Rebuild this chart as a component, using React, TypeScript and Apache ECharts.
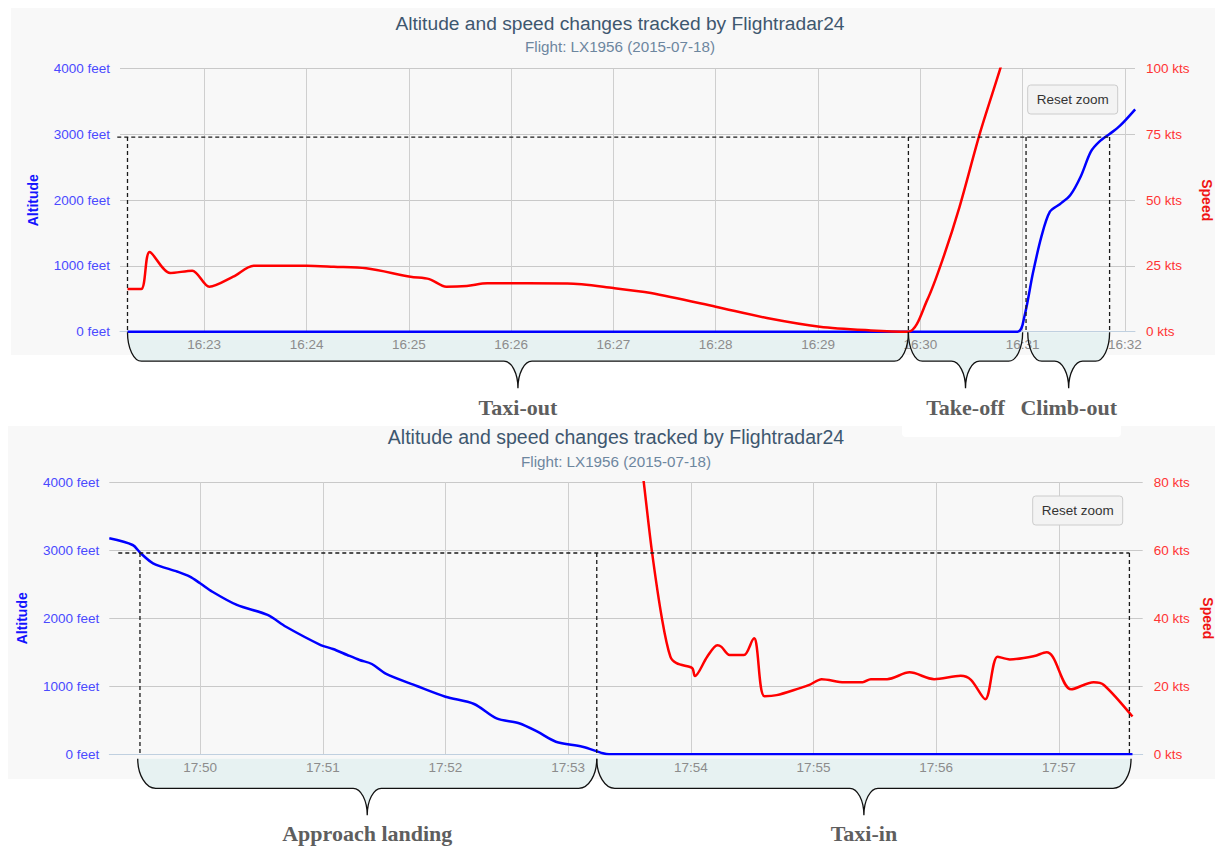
import React, { useEffect, useRef } from 'react';
import * as echarts from 'echarts';

// ---------- DATA ----------
const TITLE = 'Altitude and speed changes tracked by Flightradar24';
const SUBTITLE = 'Flight: LX1956 (2015-07-18)';

// Top chart (departure)
const topRange = ['16:22:10.6', '16:32:05.9'];
const topTicks = ['16:23', '16:24', '16:25', '16:26', '16:27', '16:28', '16:29', '16:30', '16:31', '16:32'];
const topAltTime = ['16:22:15', '16:30:57', '16:31:01', '16:31:06', '16:31:11', '16:31:16', '16:31:22', '16:31:28', '16:31:34', '16:31:40', '16:31:45', '16:31:51', '16:31:57', '16:32:06'];
const topAlt = [0, 0, 228, 888, 1445, 1825, 1942, 2079, 2357, 2738, 2890, 3007, 3129, 3382];
const topSpdTime = ['16:22:15', '16:22:23', '16:22:28', '16:22:40', '16:22:53', '16:23:03', '16:23:17', '16:23:29', '16:24:00', '16:24:16', '16:24:35', '16:25:01', '16:25:12', '16:25:22', '16:25:34', '16:25:46', '16:26:33', '16:27:00', '16:27:22', '16:28:00', '16:28:30', '16:29:01', '16:29:31', '16:29:53', '16:30:04', '16:30:13', '16:30:23', '16:30:35', '16:30:47', '16:30:55'];
const topSpd = [16.2, 16.2, 30.3, 22.3, 23.2, 17.1, 20.9, 25.1, 25.1, 24.7, 24.1, 20.9, 20.0, 17.1, 17.4, 18.4, 18.3, 16.6, 14.7, 9.5, 5.2, 1.9, 0.5, 0, 12, 27.3, 47.5, 75.6, 100.3, 118];

// Bottom chart (arrival)
const botRange = ['17:49:15.6', '17:57:41'];
const botTicks = ['17:50', '17:51', '17:52', '17:53', '17:54', '17:55', '17:56', '17:57'];
const botAltTime = ['17:49:15.6', '17:49:27', '17:49:31', '17:49:37', '17:49:49', '17:49:55', '17:50:00', '17:50:06', '17:50:18', '17:50:33', '17:50:42', '17:50:59', '17:51:05', '17:51:12', '17:51:18', '17:51:24', '17:51:31', '17:51:46', '17:52:00', '17:52:14', '17:52:25', '17:52:36', '17:52:45', '17:52:54', '17:53:07', '17:53:17', '17:53:20', '17:57:36'];
const botAlt = [3176, 3078, 2956, 2809, 2685, 2612, 2515, 2391, 2196, 2049, 1876, 1607, 1549, 1460, 1387, 1328, 1181, 1004, 847, 740, 529, 456, 332, 185, 112, 15, 0, 0];
const botSpdTime = ['17:53:33', '17:53:37', '17:53:41', '17:53:46', '17:53:50', '17:53:53', '17:54:00', '17:54:01', '17:54:02', '17:54:08', '17:54:13', '17:54:15', '17:54:19', '17:54:26', '17:54:31', '17:54:32', '17:54:36', '17:54:42', '17:54:53', '17:54:58', '17:55:04', '17:55:15', '17:55:24', '17:55:28', '17:55:36', '17:55:47', '17:55:59', '17:56:12', '17:56:17', '17:56:24', '17:56:30', '17:56:36', '17:56:48', '17:56:54', '17:56:57', '17:57:06', '17:57:17', '17:57:22', '17:57:36'];
const botSpd = [100, 80, 59.6, 39.5, 28.7, 26.8, 25.6, 25.1, 23.0, 28.7, 32.1, 31.6, 29.2, 29.2, 34.1, 32.6, 17.1, 17.4, 19.4, 20.4, 22.1, 21.2, 21.2, 22.1, 22.1, 24.1, 22.1, 23.1, 21.9, 16.2, 28.7, 27.9, 28.9, 30, 28.7, 19.1, 21.2, 20.4, 11.1];

// Phase annotations
const phaseAltitude = 2960;
const topPhases = [
  { label: 'Taxi-out', from: '16:22:15', to: '16:29:53' },
  { label: 'Take-off', from: '16:29:53', to: '16:31:00' },
  { label: 'Climb-out', from: '16:31:03', to: '16:31:51' },
];
const topMarks = ['16:22:15', '16:29:53', '16:31:02', '16:31:51'];
const topDashFrom = '16:22:09';
const botPhases = [
  { label: 'Approach landing', from: '17:49:29.5', to: '17:53:14' },
  { label: 'Taxi-in', from: '17:53:14', to: '17:57:35.3' },
];
const botMarks = ['17:49:30.6', '17:53:14', '17:57:34.5'];
const botDashFrom = '17:49:20';

// ---------- HELPERS ----------
const FONT = 'Arial, "Liberation Sans", Helvetica, sans-serif';
const SERIF = '"Liberation Serif", "Times New Roman", Times, serif';

const toSec = (s: string) => {
  const p = s.split(':').map(Number);
  return p[0] * 3600 + p[1] * 60 + (p[2] || 0);
};
const fmt = (v: number) => {
  const r = Math.round(v);
  const h = Math.floor(r / 3600);
  const m = Math.floor((r % 3600) / 60);
  return `${h}:${String(m).padStart(2, '0')}`;
};
const pairs = (t: string[], v: number[]) => t.map((s, i) => [toSec(s), v[i]]);

function xAxisFor(gridIndex: number, range: string[], ticks: string[]) {
  const vals = ticks.map(toSec);
  return {
    type: 'value',
    gridIndex,
    min: toSec(range[0]),
    max: toSec(range[1]),
    axisLine: { show: true, onZero: false, lineStyle: { color: '#c0d0e0', width: 1 } },
    axisTick: { show: false, customValues: vals },
    axisLabel: { customValues: vals, formatter: fmt, color: '#8c8c8c', fontSize: 13.5, fontFamily: FONT, margin: 6 },
    splitLine: { show: true, lineStyle: { color: '#cfcfcf', width: 1 } },
  };
}

function leftAxis(gridIndex: number) {
  return {
    type: 'value', gridIndex, position: 'left', min: 0, max: 4000, interval: 1000,
    name: 'Altitude', nameLocation: 'middle', nameGap: 80, nameRotate: 90,
    nameTextStyle: { color: '#1414ff', fontWeight: 'bold', fontSize: 14, fontFamily: FONT },
    axisLine: { show: false }, axisTick: { show: false },
    axisLabel: { formatter: (v: number) => `${v} feet`, color: '#4a4aff', fontSize: 13.5, fontFamily: FONT, margin: 10 },
    splitLine: { show: true, lineStyle: { color: '#c9c9c9', width: 1 } },
  };
}

function rightAxis(gridIndex: number, max: number, interval: number, gap: number) {
  return {
    type: 'value', gridIndex, position: 'right', min: 0, max, interval,
    name: 'Speed', nameLocation: 'middle', nameGap: gap, nameRotate: -90,
    nameTextStyle: { color: '#f01414', fontWeight: 'bold', fontSize: 14, fontFamily: FONT },
    axisLine: { show: false }, axisTick: { show: false },
    axisLabel: { formatter: (v: number) => `${v} kts`, color: '#ff3434', fontSize: 13.5, fontFamily: FONT, margin: 11 },
    splitLine: { show: false },
  };
}

function lineSeries(name: string, xi: number, yi: number, data: number[][], color: string, width: number) {
  return {
    type: 'line', name, xAxisIndex: xi, yAxisIndex: yi, data,
    showSymbol: false, symbol: 'none', smooth: 0.3, clip: true,
    lineStyle: { color, width }, itemStyle: { color }, z: 3,
  };
}

function titleFor(top: number, centerX: number, gap: number, size: number) {
  return {
    text: TITLE, subtext: SUBTITLE, left: centerX, top, textAlign: 'center', padding: 0, itemGap: gap,
    textStyle: { color: '#3e576f', fontSize: size, fontWeight: 'normal', fontFamily: FONT, lineHeight: 20 },
    subtextStyle: { color: '#6d869f', fontSize: 15.2, fontFamily: FONT, lineHeight: 16 },
  };
}

function buildOption() {
  return {
    animation: false,
    backgroundColor: 'transparent',
    title: [titleFor(13, 620, 5, 19.2), titleFor(427, 616, 6, 19.5)],
    grid: [
      { left: 120, top: 68.7, width: 1015, height: 263, outerBoundsMode: 'none', containLabel: false },
      { left: 109.3, top: 482.3, width: 1033.4, height: 272, outerBoundsMode: 'none', containLabel: false },
    ],
    xAxis: [xAxisFor(0, topRange, topTicks), xAxisFor(1, botRange, botTicks)],
    yAxis: [leftAxis(0), rightAxis(0, 100, 25, 65), leftAxis(1), rightAxis(1, 80, 20, 57)],
    series: [
      lineSeries('Altitude', 0, 0, pairs(topAltTime, topAlt), '#0000ff', 2.5),
      lineSeries('Speed', 0, 1, pairs(topSpdTime, topSpd), '#ff0000', 2.5),
      lineSeries('Altitude', 1, 2, pairs(botAltTime, botAlt), '#0000ff', 2.5),
      lineSeries('Speed', 1, 3, pairs(botSpdTime, botSpd), '#ff0000', 2.5),
    ],
  };
}

function bracePath(x0: number, x1: number, y0: number, hy: number, ty: number, r: number, rt: number) {
  const k = 0.55;
  const xm = (x0 + x1) / 2;
  const f = (n: number) => n.toFixed(2);
  return [
    `M${f(x0)} ${f(y0)}`,
    `C${f(x0)} ${f(y0 + k * (hy - y0))} ${f(x0 + r * (1 - k))} ${f(hy)} ${f(x0 + r)} ${f(hy)}`,
    `L${f(xm - rt)} ${f(hy)}`,
    `C${f(xm - rt * (1 - k))} ${f(hy)} ${f(xm)} ${f(ty - k * (ty - hy))} ${f(xm)} ${f(ty)}`,
    `C${f(xm)} ${f(ty - k * (ty - hy))} ${f(xm + rt * (1 - k))} ${f(hy)} ${f(xm + rt)} ${f(hy)}`,
    `L${f(x1 - r)} ${f(hy)}`,
    `C${f(x1 - r * (1 - k))} ${f(hy)} ${f(x1)} ${f(y0 + k * (hy - y0))} ${f(x1)} ${f(y0)}`,
  ].join(' ');
}

const braceStyle = [
  { top: 0.5, mid: 29.5, tip: 56.5, label: 75.5, r: 14, rt: 14, fontSize: 22, btnRight: 17.3, btnTop: 16.3 },
  { top: 4.5, mid: 34, tip: 61, label: 79, r: 18, rt: 14, fontSize: 22, btnRight: 20, btnTop: 13.7 },
];

function buildGraphic(chart: any) {
  const els: any[] = [];
  const charts = [
    { range: topRange, phases: topPhases, marks: topMarks, dashFrom: topDashFrom },
    { range: botRange, phases: botPhases, marks: botMarks, dashFrom: botDashFrom },
  ];
  charts.forEach((c, g) => {
    const st = braceStyle[g];
    const px = (t: string, v: number) =>
      chart.convertToPixel({ xAxisIndex: g, yAxisIndex: g * 2 }, [toSec(t), v]) as number[];
    const axisY = px(c.range[0], 0)[1];
    const dashY = px(c.range[0], phaseAltitude)[1];
    const dashX0 = px(c.dashFrom, 0)[0];
    const markXs = c.marks.map((m) => px(m, 0)[0]);
    const dashStyle = { stroke: '#1a1a1a', lineWidth: 1.3, lineDash: [4, 3], fill: null };
    els.push({
      type: 'line', z: 20,
      shape: { x1: dashX0, y1: dashY, x2: markXs[markXs.length - 1], y2: dashY },
      style: dashStyle,
    });
    markXs.forEach((x) => {
      els.push({ type: 'line', z: 20, shape: { x1: x, y1: dashY, x2: x, y2: axisY }, style: dashStyle });
    });
    c.phases.forEach((p, i) => {
      const x0 = px(p.from, 0)[0];
      const x1 = px(p.to, 0)[0];
      const d = bracePath(x0, x1, axisY + st.top, axisY + st.mid, axisY + st.tip, st.r, st.rt);
      const fillName = `braceFill_${g}_${i}`;
      const lineName = `braceLine_${g}_${i}`;
      echarts.graphic.registerShape(fillName, echarts.graphic.extendPath(d + ' Z', {}));
      echarts.graphic.registerShape(lineName, echarts.graphic.extendPath(d, {}));
      els.push({ type: fillName, z: -5, silent: true, style: { fill: '#e7f2f2', stroke: null } });
      els.push({ type: lineName, z: 20, silent: true, style: { fill: null, stroke: '#111', lineWidth: 1.3 } });
      els.push({
        type: 'text', z: 20, x: (x0 + x1) / 2, y: axisY + st.label,
        style: {
          text: p.label, fill: '#5e5e5e',
          font: `bold ${st.fontSize}px ${SERIF}`,
          align: 'center', verticalAlign: 'middle', textAlign: 'center', textVerticalAlign: 'middle',
        },
      });
    });
    // Reset zoom button (Highcharts UI)
    const corner = px(c.range[1], 4000);
    const bx = corner[0] - st.btnRight - 90;
    const by = corner[1] + st.btnTop;
    els.push({
      type: 'rect', z: 20, shape: { x: bx, y: by, width: 90, height: 29, r: 3 },
      style: { fill: '#f3f3f3', stroke: '#cccccc', lineWidth: 1 },
    });
    els.push({
      type: 'text', z: 21, x: bx + 45, y: by + 14.5,
      style: {
        text: 'Reset zoom', fill: '#333333', font: `13.5px ${FONT}`,
        align: 'center', verticalAlign: 'middle', textAlign: 'center', textVerticalAlign: 'middle',
      },
    });
  });
  return els;
}

export default function App() {
  const ref = useRef<HTMLDivElement>(null);
  useEffect(() => {
    if (!ref.current) return;
    const chart = echarts.init(ref.current, null, { renderer: 'svg', width: 1215, height: 847 });
    chart.setOption(buildOption() as any);
    chart.setOption({ graphic: { elements: buildGraphic(chart) } } as any);
    return () => chart.dispose();
  }, []);
  return (
    <div style={{ position: 'fixed', left: 0, top: 0, width: 1215, height: 847, background: '#ffffff', overflow: 'hidden' }}>
      <div style={{ position: 'absolute', left: 11, top: 8, width: 1204, height: 347, background: '#f8f8f8' }} />
      <div style={{ position: 'absolute', left: 8, top: 426, width: 1207, height: 353, background: '#f8f8f8' }} />
      <div style={{ position: 'absolute', left: 902, top: 394, width: 219, height: 43, background: '#ffffff', borderRadius: 4 }} />
      <div ref={ref} style={{ position: 'absolute', left: 0, top: 0, width: 1215, height: 847 }} />
    </div>
  );
}
